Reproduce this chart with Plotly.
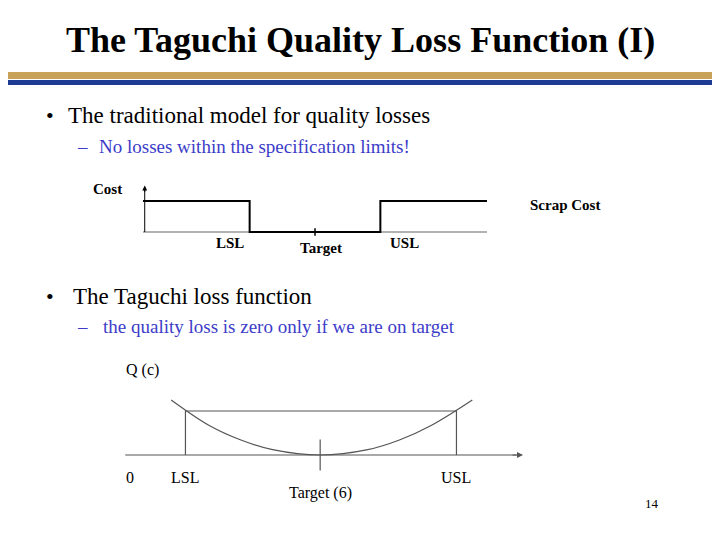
import plotly.graph_objects as go

# traditional model: step cost (x in spec units, cost 0/1)
step_x = [0, 3.1, 3.1, 6.9, 6.9, 10]
step_cost = [1, 1, 0, 0, 1, 1]
lsl1, target1, usl1 = 3.1, 5.0, 6.9

# taguchi model: quadratic loss
curve_x = [1.3, 2.5, 3.5, 4.5, 6.0, 7.5, 8.5, 9.5, 10.8]
curve_q = [1.25, 0.67, 0.34, 0.12, 0.0, 0.12, 0.34, 0.67, 1.25]
lsl2, target2, usl2 = 1.75, 6.0, 10.3

W, H = 720, 539
OFF = 8  # page body margin
px = lambda v: (v - OFF) / W
py = lambda v: 1 - (v - OFF) / H

fig = go.Figure()
line = dict(color="black", width=2)
thin = dict(color="#555555", width=1.2)

# chart 1
fig.add_trace(go.Scatter(x=[0, 10.4], y=[0, 0], mode="lines", line=dict(color="#999999", width=1.5), xaxis="x", yaxis="y"))
fig.add_trace(go.Scatter(x=[0.05, 0.05], y=[0, 1.45], mode="lines", line=dict(color="black", width=1), xaxis="x", yaxis="y"))
fig.add_trace(go.Scatter(x=step_x, y=step_cost, mode="lines", line=line, xaxis="x", yaxis="y"))
fig.add_trace(go.Scatter(x=[target1, target1], y=[-0.12, 0.12], mode="lines", line=dict(color="black", width=1.5), xaxis="x", yaxis="y"))

# chart 2
fig.add_trace(go.Scatter(x=[-0.15, 12.2], y=[0, 0], mode="lines", line=thin, xaxis="x2", yaxis="y2"))
fig.add_trace(go.Scatter(x=curve_x, y=curve_q, mode="lines", line=dict(color="#555555", width=1.2, shape="spline"), xaxis="x2", yaxis="y2"))
fig.add_trace(go.Scatter(x=[lsl2, lsl2, usl2, usl2], y=[0, 1, 1, 0], mode="lines", line=thin, xaxis="x2", yaxis="y2"))
fig.add_trace(go.Scatter(x=[target2, target2], y=[-0.35, 0.35], mode="lines", line=thin, xaxis="x2", yaxis="y2"))

ax = dict(visible=False, fixedrange=True)
fig.update_layout(
    width=W, height=H, margin=dict(l=0, r=0, t=0, b=0), showlegend=False,
    plot_bgcolor="white", paper_bgcolor="white",
    xaxis=dict(ax, domain=[px(143), px(487)], range=[0, 10]),
    yaxis=dict(ax, domain=[py(240), py(185)], range=[-0.258, 1.516]),
    xaxis2=dict(ax, domain=[px(100), px(530)], range=[-0.946, 12.62]),
    yaxis2=dict(ax, domain=[py(500), py(360)], range=[-1.023, 2.159]),
    font=dict(family="Liberation Serif", color="black"),
)

# header bars
fig.add_shape(type="rect", xref="paper", yref="paper", x0=0, x1=1, y0=py(79), y1=py(72), fillcolor="#c9a25a", line_width=0)
fig.add_shape(type="rect", xref="paper", yref="paper", x0=0, x1=1, y0=py(85), y1=py(80), fillcolor="#1f3a93", line_width=0)

def txt(x, y, s, size, color="black", bold=False, anchor="left"):
    fig.add_annotation(xref="paper", yref="paper", x=px(x), y=py(y), text=f"<b>{s}</b>" if bold else s,
                       showarrow=False, xanchor=anchor, yanchor="middle", font=dict(size=size, color=color))

txt(360, 40, "The Taguchi Quality Loss Function (I)", 36, bold=True, anchor="center")
txt(44, 115, "•", 22)
txt(66, 115, "The traditional model for quality losses", 23)
txt(75, 146, "–", 19, color="#3c3cc8")
txt(97, 146, "No losses within the specification limits!", 19, color="#3c3cc8")
txt(91, 189, "Cost", 15, bold=True)
txt(528, 205, "Scrap Cost", 15, bold=True)
txt(230, 243, "LSL", 15, bold=True, anchor="center")
txt(321, 248, "Target", 15, bold=True, anchor="center")
txt(404, 243, "USL", 15, bold=True, anchor="center")
txt(44, 296, "•", 22)
txt(71, 296, "The Taguchi loss function", 23)
txt(75, 326, "–", 19, color="#3c3cc8")
txt(101, 326, "the quality loss is zero only if we are on target", 19, color="#3c3cc8")
txt(124, 370, "Q (c)", 16)
txt(130, 477, "0", 16, anchor="center")
txt(185, 477, "LSL", 16, anchor="center")
txt(456, 477, "USL", 16, anchor="center")
txt(320, 493, "Target (6)", 16, anchor="center")
txt(652, 503, "14", 13, anchor="center")

# arrow heads
fig.add_annotation(x=12.4, y=0, ax=-12, ay=0, xref="x2", yref="y2", axref="pixel", ayref="pixel", text="",
                   showarrow=True, arrowhead=2, arrowsize=1, arrowwidth=1.2, arrowcolor="#555555")
fig.add_annotation(x=0.05, y=1.5, ax=0, ay=8, xref="x", yref="y", text="",
                   showarrow=True, arrowhead=2, arrowsize=1, arrowwidth=1, arrowcolor="black")

fig.write_html("out.html")
